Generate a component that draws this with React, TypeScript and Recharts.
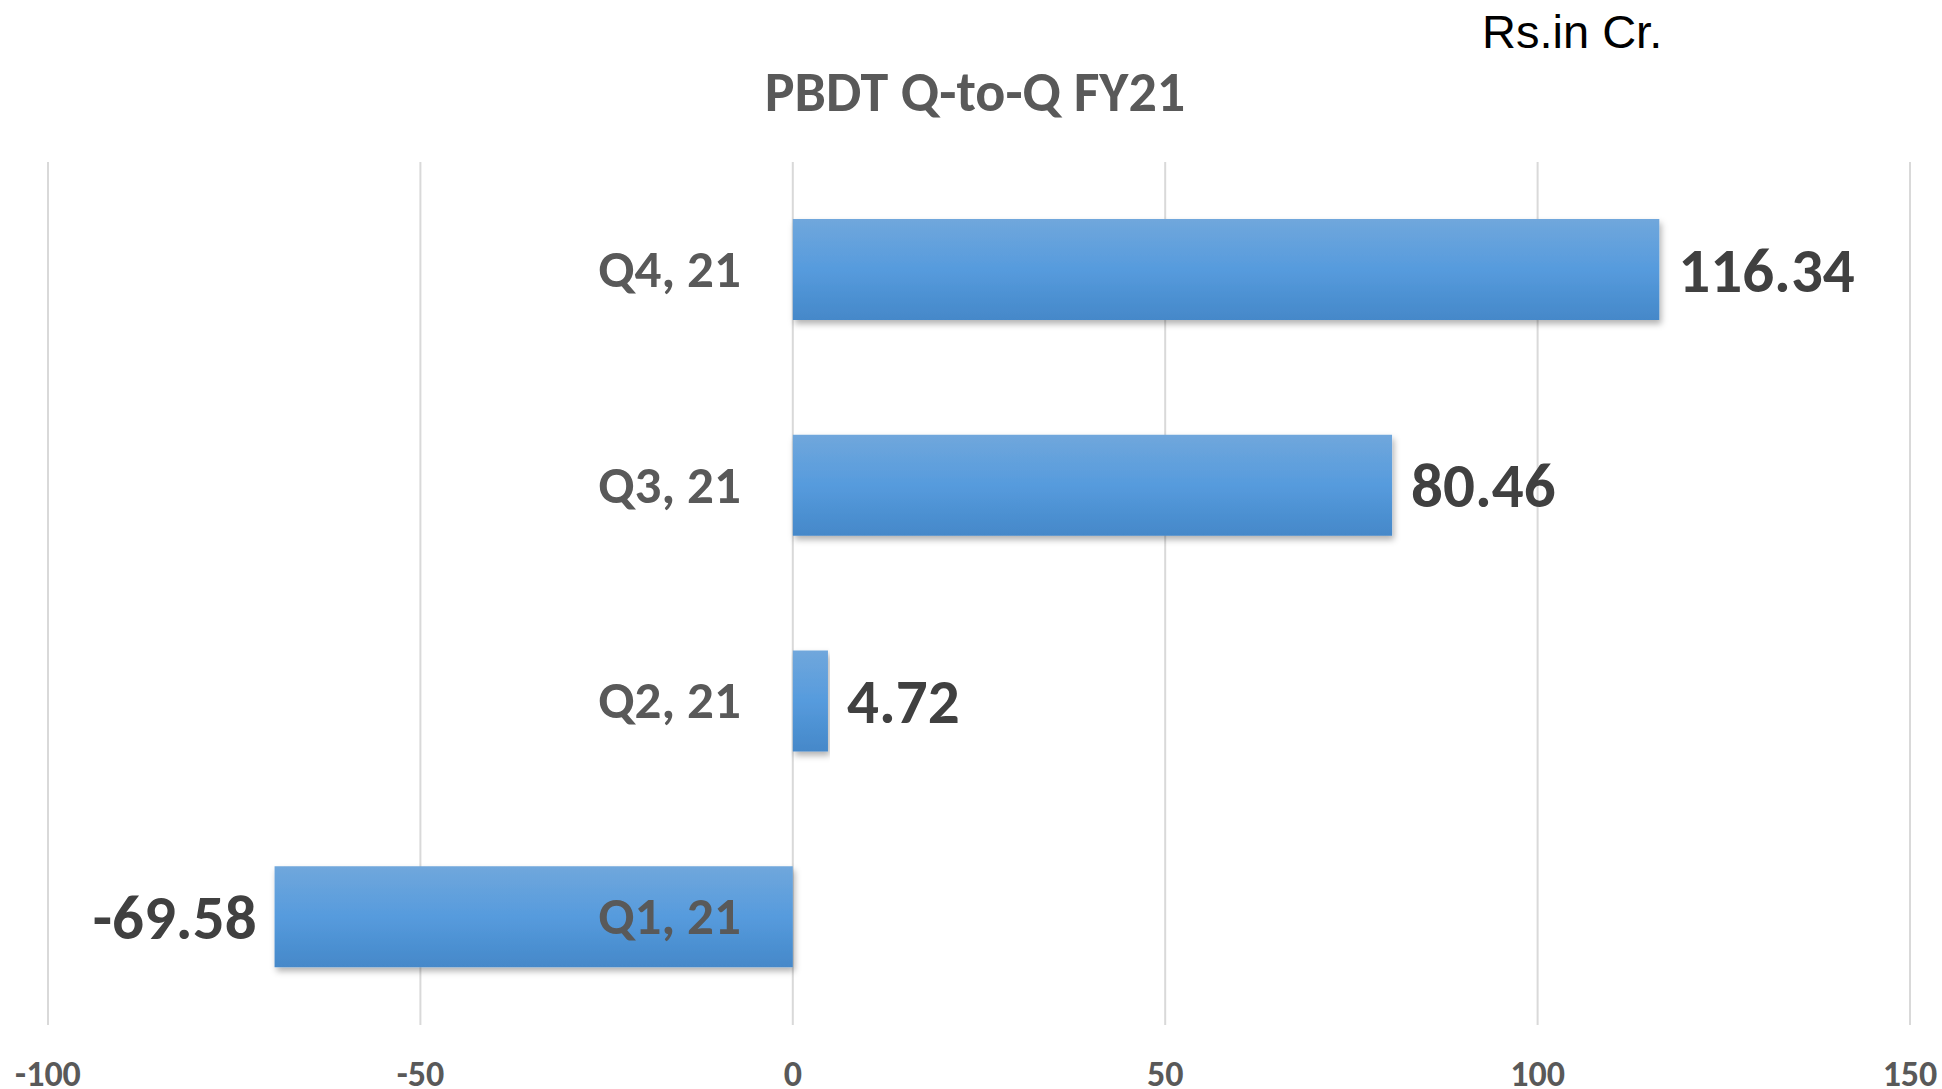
import { BarChart, Bar, XAxis, YAxis, CartesianGrid, LabelList, Rectangle } from 'recharts';

const quarters = ['Q1, 21', 'Q2, 21', 'Q3, 21', 'Q4, 21'];
const pbdt = [-69.58, 4.72, 80.46, 116.34];
const xTicks = [-100, -50, 0, 50, 100, 150];

const FONT = 'Carlito, Lato, "Open Sans", sans-serif';
const LABEL_GREY = '#595959';
const VALUE_GREY = '#404040';

const chartData = quarters.map((quarter, i) => ({ quarter, value: pbdt[i] }));

// bar geometry can come back with negative width, so work out the ends from both sides
function barEnds(x: number, width: number, value: number) {
  const lo = Math.min(x, x + width);
  const hi = Math.max(x, x + width);
  return value >= 0 ? { zero: lo, end: hi } : { zero: hi, end: lo };
}

function ValueLabel(props: any) {
  const { x, y, width, height, index } = props;
  const v = pbdt[index];
  const { end } = barEnds(x, width, v);
  const fontSize = 63;
  const pos = v >= 0;
  return (
    <text
      x={pos ? end + 19 : end - 18}
      y={y + height / 2 + fontSize * 0.35}
      textAnchor={pos ? 'start' : 'end'}
      fill={VALUE_GREY}
      fontSize={fontSize}
      fontWeight={700}
      fontFamily={FONT}
    >
      {v.toFixed(2)}
    </text>
  );
}

function QuarterLabel(props: any) {
  const { x, y, width, height, index } = props;
  const { zero } = barEnds(x, width, pbdt[index]);
  const fontSize = 53;
  return (
    <text
      x={zero - 52}
      y={y + height / 2 + fontSize * 0.33}
      textAnchor="end"
      fill={LABEL_GREY}
      fontSize={fontSize}
      fontWeight={700}
      fontFamily={FONT}
    >
      {quarters[index]}
    </text>
  );
}

function ShadowBar(props: any) {
  return <Rectangle {...props} fill="url(#pbdtFill)" filter="url(#pbdtShadow)" />;
}

export default function App() {
  return (
    <div style={{ position: 'absolute', left: 0, top: 0, width: 1942, height: 1089, background: '#fff', overflow: 'hidden' }}>
      <div
        style={{
          position: 'absolute',
          left: 1482,
          top: 4,
          fontFamily: '"Liberation Sans", Arial, sans-serif',
          fontSize: 47,
          color: '#000',
          whiteSpace: 'nowrap',
        }}
      >
        Rs.in Cr.
      </div>
      <div
        style={{
          position: 'absolute',
          left: 0,
          width: 1950,
          top: 58,
          textAlign: 'center',
          fontFamily: FONT,
          fontWeight: 700,
          fontSize: 56,
          color: LABEL_GREY,
          whiteSpace: 'nowrap',
        }}
      >
        PBDT Q-to-Q FY21
      </div>
      <BarChart
        width={1942}
        height={1089}
        data={chartData}
        layout="vertical"
        margin={{ top: 162, right: 32, left: 48, bottom: 0 }}
      >
        <defs>
          <linearGradient id="pbdtFill" x1="0" y1="0" x2="0" y2="1">
            <stop offset="0%" stopColor="#70a7dc" />
            <stop offset="50%" stopColor="#569bdd" />
            <stop offset="100%" stopColor="#4588c9" />
          </linearGradient>
          <filter id="pbdtShadow" x="-5%" y="-20%" width="110%" height="150%">
            <feDropShadow dx="2" dy="4" stdDeviation="3" floodColor="#000" floodOpacity="0.3" />
          </filter>
        </defs>
        <CartesianGrid horizontal={false} stroke="#d9d9d9" strokeWidth={2} />
        <XAxis
          type="number"
          domain={[-100, 150]}
          ticks={xTicks}
          height={64}
          axisLine={false}
          tickLine={false}
          tickSize={0}
          tickMargin={35}
          tick={{ fill: LABEL_GREY, fontSize: 36, fontWeight: 700, fontFamily: FONT }}
          interval={0}
        />
        <YAxis type="category" dataKey="quarter" reversed hide />
        <Bar dataKey="value" barSize={101} shape={<ShadowBar />} isAnimationActive={false}>
          <LabelList dataKey="value" content={<ValueLabel />} />
          <LabelList dataKey="quarter" content={<QuarterLabel />} />
        </Bar>
      </BarChart>
    </div>
  );
}
